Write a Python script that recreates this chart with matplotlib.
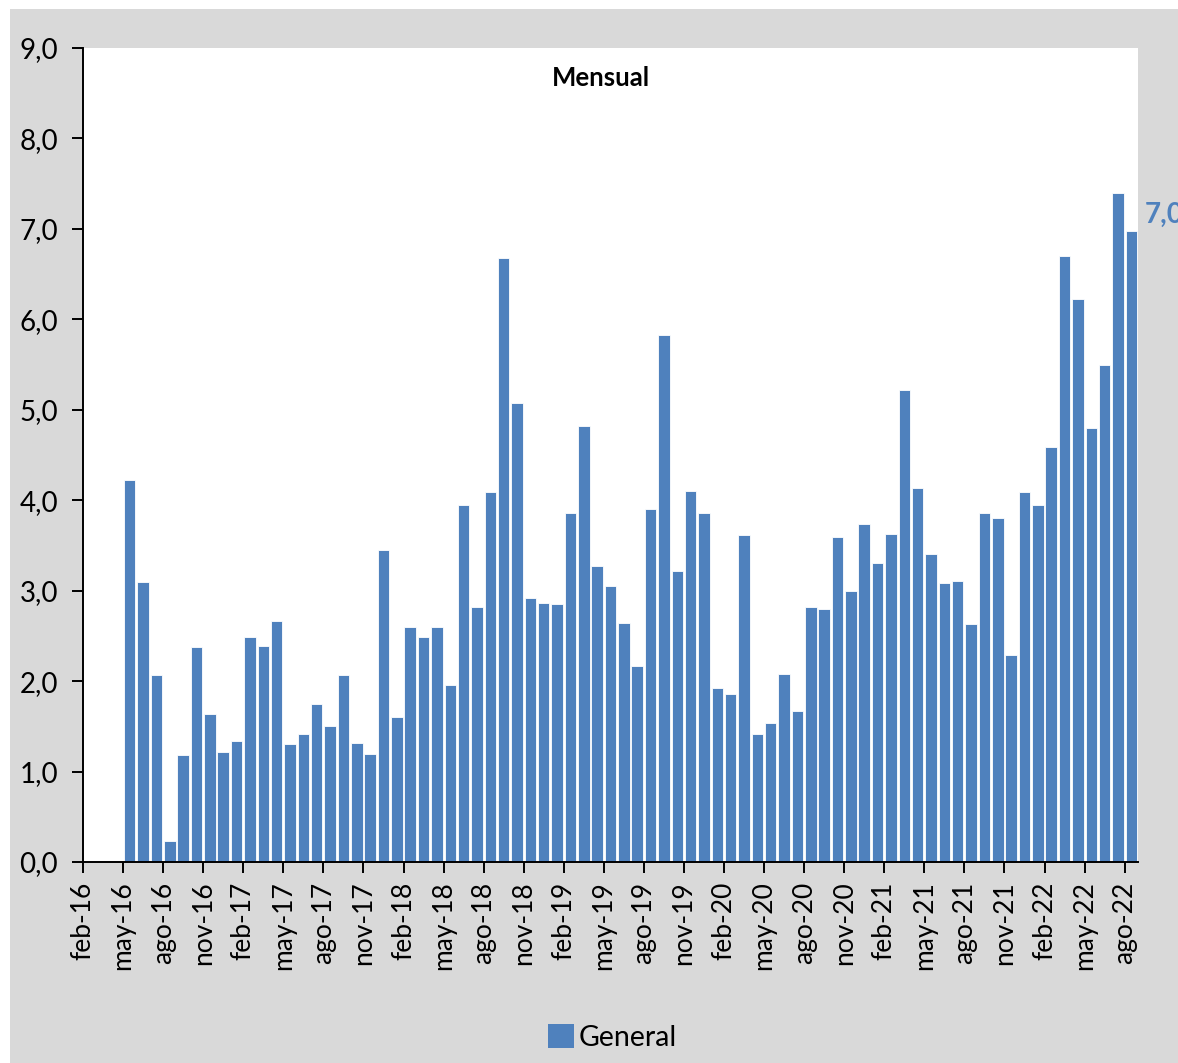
import matplotlib.pyplot as plt
from matplotlib.patches import Rectangle

# monthly values, may-16 .. ago-22
values = [4.22, 3.10, 2.07, 0.23, 1.18, 2.38, 1.64, 1.22, 1.34, 2.49, 2.39, 2.66,
          1.30, 1.42, 1.75, 1.50, 2.07, 1.32, 1.19, 3.45, 1.60, 2.60, 2.49, 2.60,
          1.96, 3.95, 2.82, 4.09, 6.68, 5.08, 2.92, 2.86, 2.85, 3.86, 4.82, 3.27,
          3.05, 2.64, 2.17, 3.90, 5.83, 3.22, 4.10, 3.86, 1.92, 1.86, 3.62, 1.42,
          1.54, 2.08, 1.67, 2.82, 2.80, 3.59, 3.00, 3.74, 3.31, 3.63, 5.22, 4.13,
          3.40, 3.09, 3.11, 2.63, 3.86, 3.80, 2.29, 4.09, 3.95, 4.59, 6.70, 6.22,
          4.80, 5.50, 7.40, 6.98]
first_month = 3          # offset from feb-16 (axis starts at feb-16)
n_months = 79            # feb-16 .. ago-22

tick_labels = ["feb-16", "may-16", "ago-16", "nov-16", "feb-17", "may-17", "ago-17",
               "nov-17", "feb-18", "may-18", "ago-18", "nov-18", "feb-19", "may-19",
               "ago-19", "nov-19", "feb-20", "may-20", "ago-20", "nov-20", "feb-21",
               "may-21", "ago-21", "nov-21", "feb-22", "may-22", "ago-22"]

BLUE = "#4f81bd"
GRAY = "#d9d9d9"

plt.rcParams["font.family"] = ["Lato", "DejaVu Sans"]

fig = plt.figure(figsize=(11.78, 10.63), dpi=100)
fig.patch.set_facecolor("white")
fig.patches.append(Rectangle((10 / 1178, 0), 1, 1054 / 1063, transform=fig.transFigure,
                             facecolor=GRAY, edgecolor="none", zorder=-10))

ax = fig.add_axes([83 / 1178, 201 / 1063, 1055 / 1178, 814 / 1063])
ax.set_facecolor("white")

x = [first_month + i + 0.5 for i in range(len(values))]
ax.bar(x, values, width=0.86, color=BLUE, edgecolor="white", linewidth=0.6, zorder=2)

ax.set_xlim(0, n_months)
ax.set_ylim(0, 9)
ax.set_yticks(range(0, 10))
ax.set_yticklabels([f"{v},0" for v in range(0, 10)], fontsize=20)
ax.set_xticks(range(0, n_months, 3))
ax.set_xticklabels(tick_labels, rotation=90, fontsize=19)

for side in ["top", "right"]:
    ax.spines[side].set_visible(False)
for side in ["left", "bottom"]:
    ax.spines[side].set_linewidth(1.4)
    ax.spines[side].set_zorder(3)
ax.tick_params(axis="x", direction="out", length=8, width=1.4, pad=6)
ax.tick_params(axis="y", direction="out", length=8, width=1.4, pad=10)

ax.text(0.491, 0.963, "Mensual", transform=ax.transAxes, ha="center", va="center",
        fontsize=18.5, fontweight="bold")

ax.text(x[-1] + 1.0, values[-1] + 0.18, f"{values[-1]:.1f}".replace(".", ","),
        color=BLUE, fontsize=20, fontweight="bold", ha="left", va="center", clip_on=False)

handle = Rectangle((0, 0), 1, 1, facecolor=BLUE, edgecolor="none")
fig.legend([handle], ["General"], loc="center", bbox_to_anchor=(0.52, 0.024),
           frameon=False, fontsize=20.5, handlelength=0.9, handleheight=0.9,
           handletextpad=0.15)

fig.savefig("out.png", dpi=100, facecolor=fig.get_facecolor())
